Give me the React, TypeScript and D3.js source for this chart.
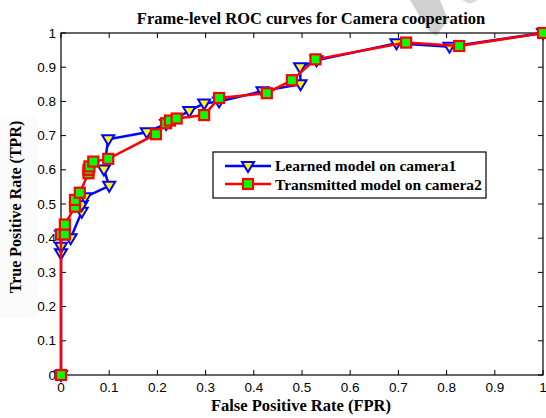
import React from "react";
import * as d3 from "d3";

const learnedFPR = [0, 0, 0, 0, 0.02, 0.043, 0.043, 0.05, 0.1, 0.089, 0.098, 0.178, 0.218, 0.266, 0.297, 0.328, 0.418, 0.497, 0.496, 0.53, 0.696, 0.806, 1];
const learnedTPR = [0, 0.356, 0.375, 0.41, 0.40, 0.477, 0.497, 0.52, 0.553, 0.601, 0.689, 0.71, 0.734, 0.772, 0.794, 0.80, 0.83, 0.85, 0.90, 0.92, 0.97, 0.96, 1];

const transFPR = [0, 0, 0.008, 0.008, 0.029, 0.029, 0.039, 0.057, 0.057, 0.059, 0.067, 0.098, 0.197, 0.218, 0.226, 0.24, 0.297, 0.328, 0.427, 0.479, 0.528, 0.716, 0.826, 1];
const transTPR = [0, 0.411, 0.411, 0.44, 0.492, 0.512, 0.533, 0.59, 0.60, 0.61, 0.624, 0.632, 0.704, 0.736, 0.744, 0.75, 0.76, 0.81, 0.824, 0.862, 0.923, 0.972, 0.962, 1];

const ticks = [0, 0.1, 0.2, 0.3, 0.4, 0.5, 0.6, 0.7, 0.8, 0.9, 1];
const tickLabels = ["0", "0.1", "0.2", "0.3", "0.4", "0.5", "0.6", "0.7", "0.8", "0.9", "1"];
const seriesNames = ["Learned model on camera1", "Transmitted model on camera2"];

export default function App() {
  const W = 546, H = 418;
  const x = d3.scaleLinear().domain([0, 1]).range([61, 543]);
  const y = d3.scaleLinear().domain([0, 1]).range([375, 33]);
  const line = d3.line<[number, number]>().x(d => x(d[0])).y(d => y(d[1]));
  const blue: [number, number][] = learnedFPR.map((v, i) => [v, learnedTPR[i]]);
  const red: [number, number][] = transFPR.map((v, i) => [v, transTPR[i]]);
  const tri = (cx: number, cy: number, k: string | number) => (
    <path key={k} d={`M${cx - 6},${cy - 4} L${cx + 6},${cy - 4} L${cx},${cy + 6} Z`} fill="#ffff00" stroke="#0000ff" strokeWidth={2} />
  );
  const sq = (cx: number, cy: number, k: string | number) => (
    <rect key={k} x={cx - 5} y={cy - 5} width={10} height={10} fill="#00ff00" stroke="#ff0000" strokeWidth={2.2} />
  );
  const serif = "'Liberation Serif', 'Times New Roman', serif";
  const sans = "'Liberation Sans', Arial, sans-serif";
  return (
    <svg width={W} height={H} style={{ position: "absolute", left: 0, top: 0, background: "#fff" }}>
      <polygon points="410,0 440,0 448,20 436,36 428,30" fill="#d0d0d0" />
      <polygon points="462,0 478,0 470,4" fill="#d8d8d8" />
      <text x={311} y={24} textAnchor="middle" fontFamily={serif} fontWeight="bold" fontSize={16.5}>Frame-level ROC curves for Camera cooperation</text>
      {/* frame */}
      <rect x={x(0)} y={y(1)} width={x(1) - x(0)} height={y(0) - y(1)} fill="none" stroke="#000" strokeWidth={1.2} />
      {ticks.map((t, i) => (
        <g key={"xt" + i}>
          <line x1={x(t)} x2={x(t)} y1={y(0)} y2={y(0) - 5} stroke="#000" />
          <line x1={x(t)} x2={x(t)} y1={y(1)} y2={y(1) + 5} stroke="#000" />
          <text x={x(t)} y={y(0) + 17} textAnchor="middle" fontFamily={sans} fontSize={13.5}>{tickLabels[i]}</text>
          <line y1={y(t)} y2={y(t)} x1={x(0)} x2={x(0) + 5} stroke="#000" />
          <line y1={y(t)} y2={y(t)} x1={x(1)} x2={x(1) - 5} stroke="#000" />
          <text x={x(0) - 5} y={y(t) + 4.5} textAnchor="end" fontFamily={sans} fontSize={13.5}>{tickLabels[i]}</text>
        </g>
      ))}
      <rect x={0} y={116} width={37} height={202} fill="#fbfbfb" />
      <text transform={`translate(21,207) rotate(-90)`} textAnchor="middle" fontFamily={serif} fontWeight="bold" fontSize={16}>True Positive Rate (TPR)</text>
      <text x={301} y={411} textAnchor="middle" fontFamily={serif} fontWeight="bold" fontSize={16.5}>False Positive Rate (FPR)</text>
      <path d={line(blue) || ""} fill="none" stroke="#0000ff" strokeWidth={2.5} />
      {blue.map((d, i) => tri(x(d[0]), y(d[1]), "b" + i))}
      <path d={line(red) || ""} fill="none" stroke="#ff0000" strokeWidth={2.5} />
      {red.map((d, i) => sq(x(d[0]), y(d[1]), "r" + i))}
      {/* legend */}
      <rect x={213} y={152} width={273} height={46} fill="#fff" stroke="#000" strokeWidth={1.2} />
      <line x1={225} x2={271} y1={166} y2={166} stroke="#0000ff" strokeWidth={2.5} />
      {tri(248, 166, "lt")}
      <text x={275} y={171} fontFamily={serif} fontWeight="bold" fontSize={15.5}>{seriesNames[0]}</text>
      <line x1={225} x2={271} y1={184} y2={184} stroke="#ff0000" strokeWidth={2.5} />
      {sq(248, 184, "ls")}
      <text x={275} y={189.5} fontFamily={serif} fontWeight="bold" fontSize={15.5}>{seriesNames[1]}</text>
    </svg>
  );
}
